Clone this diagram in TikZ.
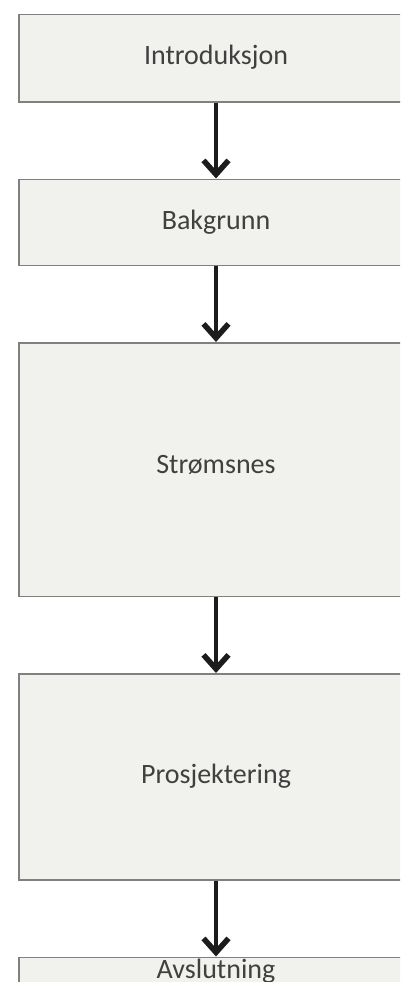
\documentclass[tikz,border=0pt]{standalone}
\usepackage{fontspec}
\setmainfont{Carlito}
\usetikzlibrary{arrows.meta}
\definecolor{boxfill}{HTML}{F1F1ED}
\definecolor{boxline}{HTML}{808080}
\definecolor{txt}{HTML}{404040}
\definecolor{arr}{HTML}{1C1C1C}
\tikzset{
  stage/.style={draw=boxline, line width=1.5pt, fill=boxfill, text=txt,
    font=\fontsize{28}{32}\selectfont, minimum width=394pt, inner xsep=0pt,
    inner ysep=0pt, anchor=north},
  flow/.style={draw=arr, line width=4pt,
    -{Straight Barb[length=14pt,width=25pt,line width=5.5pt]}},
}
\begin{document}
\begin{tikzpicture}[x=1pt,y=-1pt]
\useasboundingbox (0,0) rectangle (400,982);
\clip (0,0) rectangle (400,982);
\node[stage, text height=50pt, text depth=37pt] (b1) at (216,14) {Introduksjon};
\node[stage, text height=50pt, text depth=36.3pt] (b2) at (216,178.5) {Bakgrunn};
\node[stage, text height=131pt, text depth=122.5pt] (b3) at (216,342) {Strømsnes};
\node[stage, text height=110pt, text depth=96pt] (b4) at (216,673) {Prosjektering};
\node[stage, text height=21pt, text depth=60pt] (b5) at (216,956.5) {Avslutning};
\draw[flow] (b1.south) -- (b2.north);
\draw[flow] (b2.south) -- (b3.north);
\draw[flow] (b3.south) -- (b4.north);
\draw[flow] (b4.south) -- (b5.north);
\end{tikzpicture}
\end{document}
